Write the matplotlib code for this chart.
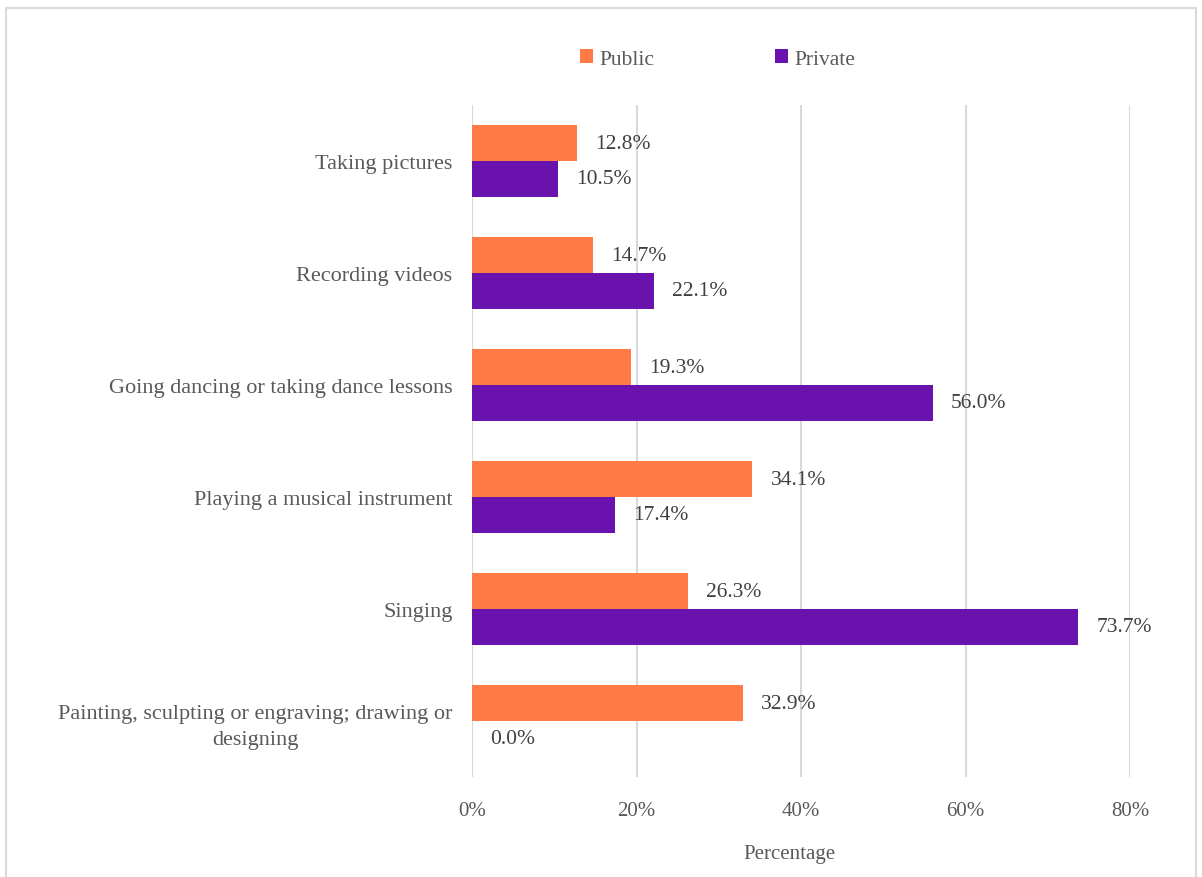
import matplotlib.pyplot as plt
import numpy as np
from matplotlib.patches import Rectangle
from matplotlib.ticker import FuncFormatter

# activity categories, listed bottom to top
categories = ['Painting, sculpting or engraving; drawing or\ndesigning',
              'Singing',
              'Playing a musical instrument',
              'Going dancing or taking dance lessons',
              'Recording videos',
              'Taking pictures']
public = [32.9, 26.3, 34.1, 19.3, 14.7, 12.8]
private = [0.0, 73.7, 17.4, 56.0, 22.1, 10.5]
xticks = [0, 20, 40, 60, 80]

orange = '#FF7A45'
purple = '#6A12AE'
txt = '#595959'
grid_col = '#D9D9D9'

plt.rcParams['font.family'] = ['Liberation Serif', 'DejaVu Serif']

fig = plt.figure(figsize=(12.02, 8.78), dpi=100)
ax = fig.add_axes([472/1202, 1-778/878, (1130-472)/1202, (778-106)/878])

# outer frame around the chart
fig.patches.append(Rectangle((6/1202, -0.01), 1190/1202, 1-9/878+0.01, transform=fig.transFigure,
                             fill=False, edgecolor=grid_col, linewidth=1.5))

y = np.arange(len(categories))
h = 0.32
ax.barh(y + h/2, public, height=h, color=orange, label='Public', zorder=3)
ax.barh(y - h/2, private, height=h, color=purple, label='Private', zorder=3)

for yi, v in zip(y, public):
    ax.text(v + 2.2, yi + h/2, f'{v:.1f}%', va='center', ha='left', fontsize=15.5, color='#404040')
for yi, v in zip(y, private):
    ax.text(v + 2.2, yi - h/2, f'{v:.1f}%', va='center', ha='left', fontsize=15.5, color='#404040')

ax.set_xlim(0, 80)
ax.set_ylim(-0.5, len(categories) - 0.5)
ax.set_xticks(xticks)
ax.xaxis.set_major_formatter(FuncFormatter(lambda v, p: f'{v:.0f}%'))
ax.set_yticks(y)
ax.set_yticklabels(categories, fontsize=16, color=txt, ha='right', multialignment='center',
                   linespacing=1.45)
ax.tick_params(axis='y', length=0, pad=14)
ax.tick_params(axis='x', length=0, pad=17, labelsize=15, labelcolor=txt)
ax.grid(axis='x', color=grid_col, linewidth=1.5, zorder=0)
for s in ax.spines.values():
    s.set_visible(False)
ax.set_xlabel('Percentage', fontsize=15, color=txt)
ax.xaxis.set_label_coords(0.482, -0.099)

fig.legend(loc='center', bbox_to_anchor=(718/1202, 1-60/878), ncol=2, frameon=False,
           fontsize=15.5, labelcolor=txt, handlelength=0.6, handleheight=0.6,
           handletextpad=0.3, columnspacing=5.6)

fig.savefig('out.png', dpi=100)
